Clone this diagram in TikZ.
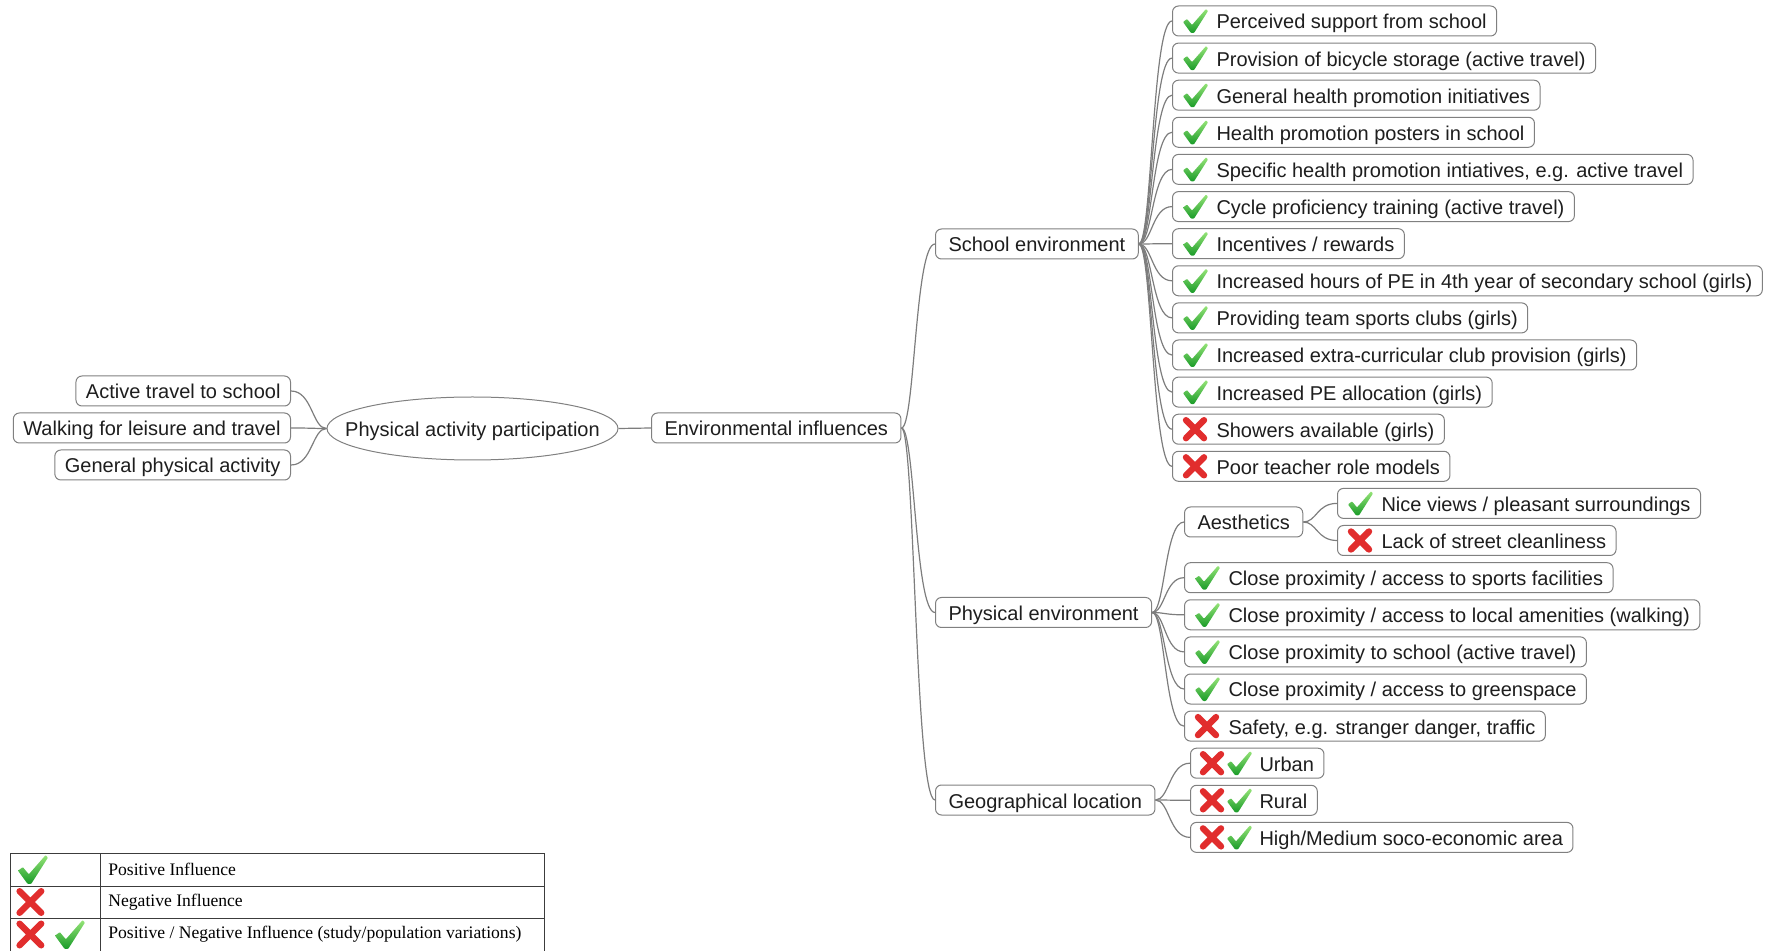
\documentclass[tikz,border=0pt]{standalone}
\usepackage{fontspec}
\setmainfont{Liberation Sans}
\newfontfamily\legfont{Liberation Serif}
\usetikzlibrary{shapes.geometric,calc}
\definecolor{lnc}{RGB}{125,125,125}
\definecolor{bdc}{RGB}{128,128,128}
\definecolor{txc}{RGB}{30,30,30}
\definecolor{gtop}{RGB}{150,228,120}
\definecolor{gbot}{RGB}{25,155,40}
\definecolor{rxc}{RGB}{225,45,45}
\definecolor{lgl}{RGB}{60,60,60}
\tikzset{
  box/.style={draw=bdc, line width=0.5pt, rounded corners=3pt, fill=white,
    minimum height=15pt, inner xsep=5pt, inner ysep=0pt, text=txc,
    text height=8pt, text depth=0pt,
    font=\fontsize{10}{12}\selectfont},
  pbox/.style={box, inner xsep=6.5pt},
  conn/.style={draw=lnc, line width=0.6pt},
  legline/.style={draw=lgl, line width=0.5pt},
  legtxt/.style={inner sep=2.5pt, text=black, font=\legfont\fontsize{8.8}{10}\selectfont},
  chk/.pic={\shade[top color=gtop, bottom color=gbot, rounded corners=0.4pt]
     (0,1) -- (4,-2) -- (9,4) -- (23,-12) -- (25,-10) -- (11,12) -- (8,12) -- cycle;},
  crs/.pic={\draw[rxc, line width=3.2pt, line cap=round] (3,-9) -- (21,9) (21,-9) -- (3,9);},
}
\newcommand\cnr[2]{\draw[conn] let \p1=(#1), \p2=(#2) in (\p1) .. controls ({\x1+0.4*(\x2-\x1)},\y1) and ({\x1+0.4*(\x2-\x1)},\y2) .. (\p2);}
\newcommand\lfc[4]{\node[box,anchor=west] (#1) at (#2) {\hspace*{17pt}#4}; \pic at ($(#1.west)+(11,0)$) {#3};}
\newcommand\lfb[3]{\node[box,anchor=west] (#1) at (#2) {\hspace*{29.5pt}#3}; \pic at ($(#1.west)+(10,0)$) {crs}; \pic at ($(#1.west)+(37,0)$) {chk};}
\begin{document}
\begin{tikzpicture}[x=0.5pt,y=-0.5pt]
\useasboundingbox (0,0) rectangle (1767,951);
% root and left side
\node[ellipse, draw=bdc, line width=0.5pt, fill=white, minimum width=145.5pt, minimum height=31.5pt,
  inner sep=0pt, text=txc, text height=8pt, text depth=0pt, font=\fontsize{10}{12}\selectfont] (root) at (472.5,428.5) {\makebox[0pt]{Physical activity participation}};
\node[box,anchor=east] (l1) at (291,391) {Active travel to school};
\node[box,anchor=east] (l2) at (291,428) {Walking for leisure and travel};
\node[box,anchor=east] (l3) at (291,465) {General physical activity};
\cnr{root.west}{l1.east}
\cnr{root.west}{l2.east}
\cnr{root.west}{l3.east}
% main branches
\node[pbox,anchor=west] (env) at (651,428) {Environmental influences};
\draw[conn] (root.east) -- (env.west);
\node[pbox,anchor=west] (sch) at (935,244) {School environment};
\node[pbox,anchor=west] (phy) at (935,612.5) {Physical environment};
\node[pbox,anchor=west] (geo) at (935,800) {Geographical location};
\cnr{env.east}{sch.west}
\cnr{env.east}{phy.west}
\cnr{env.east}{geo.west}
% school items
\lfc{s1}{1172,21}{chk}{Perceived support from school}
\lfc{s2}{1172,58.1}{chk}{Provision of bicycle storage (active travel)}
\lfc{s3}{1172,95.2}{chk}{General health promotion initiatives}
\lfc{s4}{1172,132.3}{chk}{Health promotion posters in school}
\lfc{s5}{1172,169.4}{chk}{Specific health promotion intiatives, e.g. active travel}
\lfc{s6}{1172,206.6}{chk}{Cycle proficiency training (active travel)}
\lfc{s7}{1172,243.7}{chk}{Incentives / rewards}
\lfc{s8}{1172,280.8}{chk}{Increased hours of PE in 4th year of secondary school (girls)}
\lfc{s9}{1172,317.9}{chk}{Providing team sports clubs (girls)}
\lfc{s10}{1172,355.0}{chk}{Increased extra-curricular club provision (girls)}
\lfc{s11}{1172,392.1}{chk}{Increased PE allocation (girls)}
\lfc{s12}{1172,429.2}{crs}{Showers available (girls)}
\lfc{s13}{1172,466.3}{crs}{Poor teacher role models}
\foreach \i in {1,...,13} {\cnr{sch.east}{s\i.west}}
% physical items
\node[pbox,anchor=west] (aes) at (1184,522) {Aesthetics};
\lfc{a1}{1337,503.4}{chk}{Nice views / pleasant surroundings}
\lfc{a2}{1337,540.5}{crs}{Lack of street cleanliness}
\cnr{aes.east}{a1.west}
\cnr{aes.east}{a2.west}
\lfc{p1}{1184,577.7}{chk}{Close proximity / access to sports facilities}
\lfc{p2}{1184,614.8}{chk}{Close proximity / access to local amenities (walking)}
\lfc{p3}{1184,651.9}{chk}{Close proximity to school (active travel)}
\lfc{p4}{1184,689.0}{chk}{Close proximity / access to greenspace}
\lfc{p5}{1184,726.1}{crs}{Safety, e.g. stranger danger, traffic}
\cnr{phy.east}{aes.west}
\foreach \i in {1,...,5} {\cnr{phy.east}{p\i.west}}
% geographical items
\lfb{g1}{1190,763.2}{Urban}
\lfb{g2}{1190,800.3}{Rural}
\lfb{g3}{1190,837.4}{High/Medium soco-economic area}
\foreach \i in {1,...,3} {\cnr{geo.east}{g\i.west}}
% legend
\draw[legline] (10,853) -- (544,853) (10,886) -- (544,886) (10,918) -- (544,918)
  (10,853) -- (10,951) (100,853) -- (100,951) (544,853) -- (544,951);
\pic[scale=1.2] at (18,869.5) {chk};
\pic[scale=1.2] at (16,902) {crs};
\pic[scale=1.2] at (16,934.5) {crs};
\pic[scale=1.2] at (55,934.5) {chk};
\node[legtxt,anchor=west] (t1) at (103,869.5) {Positive Influence};
\node[legtxt,anchor=west] (t2) at (103,902) {Negative Influence};
\node[legtxt,anchor=west] (t3) at (103,934.5) {Positive / Negative Influence (study/population variations)};
\end{tikzpicture}
\end{document}
